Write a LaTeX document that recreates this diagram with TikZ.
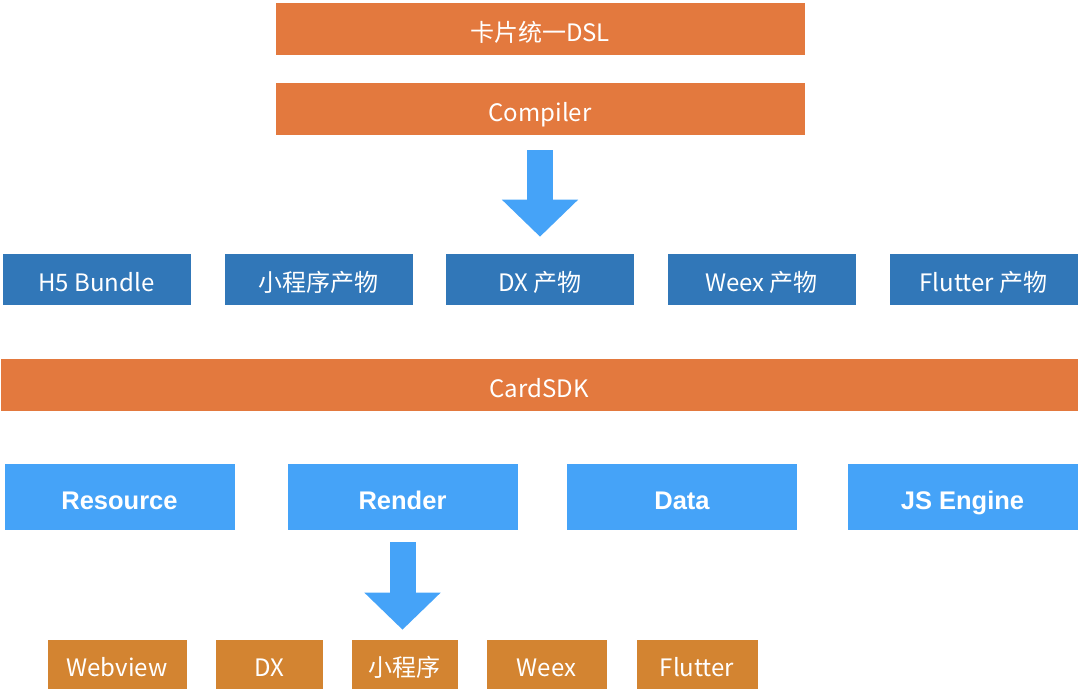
\documentclass[tikz,border=0pt]{standalone}
\usepackage{fontspec}
\setmainfont{Noto Sans CJK SC}
\newfontfamily\boldsans{Liberation Sans}
\usetikzlibrary{arrows.meta}
\definecolor{dslorange}{HTML}{E3793E}
\definecolor{outblue}{HTML}{3177B8}
\definecolor{sdkblue}{HTML}{45A3F8}
\definecolor{rtorange}{HTML}{D38431}
\tikzset{
	box/.style={rectangle, inner sep=0pt, draw=white, line width=0.6pt, text=white,
		text height=1.05em, text depth=0pt},
	bigarrow/.style={draw=sdkblue, line width=26pt, -{Triangle[width=74pt, length=37pt]}}
}
\begin{document}
\begin{tikzpicture}[x=1pt, y=-1pt]
		%\draw[help lines] (0,0) grid[step=50] (1080,689);
		\useasboundingbox (0,0) rectangle (1080,689);
		\fontsize{24}{28}\selectfont
		
		\node[box, fill=dslorange, minimum width=530pt, minimum height=53pt] (dsl) at (540, 28.5) {卡片统一DSL};
		\node[box, fill=dslorange, minimum width=530pt, minimum height=53pt] (comp) at (540, 108.5) {Compiler};
		
		\foreach \n\s\t in {1/H5 Bundle/96.5, 2/小程序产物/318.5, 3/DX 产物/540,
			4/Weex 产物/761.5, 5/Flutter 产物/983.5}
		\node[box, fill=outblue, minimum width=189pt, minimum height=52pt] (out\n) at (\t, 279) {\s};
		
		\node[box, fill=dslorange, minimum width=1078pt, minimum height=53pt] (sdk) at (539, 384.5) {CardSDK};
		
		\foreach \n\s\t in {1/Resource/119.5, 2/Render/402.5, 3/Data/682, 4/JS Engine/962.5}
		\node[box, fill=sdkblue, minimum width=231pt, minimum height=67pt,
			font=\boldsans\bfseries\fontsize{25.5}{30}\selectfont] (mod\n) at (\t, 496.5) {\s};
		
		\foreach \n\s\t\w in {1/Webview/117/140, 2/DX/269/108, 3/小程序/404.5/107,
			4/Weex/546.5/121, 5/Flutter/697/122}
		\node[box, fill=rtorange, minimum width=\w pt, minimum height=50pt] (rt\n) at (\t, 664) {\s};
		
		\draw[bigarrow, shorten <=15pt, shorten >=16pt] (comp.south) -- (comp.south |- out3.north);
		\draw[bigarrow, shorten <=12pt, shorten >=9pt] (mod2.south) -- (mod2.south |- rt3.north);
	\end{tikzpicture}
\end{document}
